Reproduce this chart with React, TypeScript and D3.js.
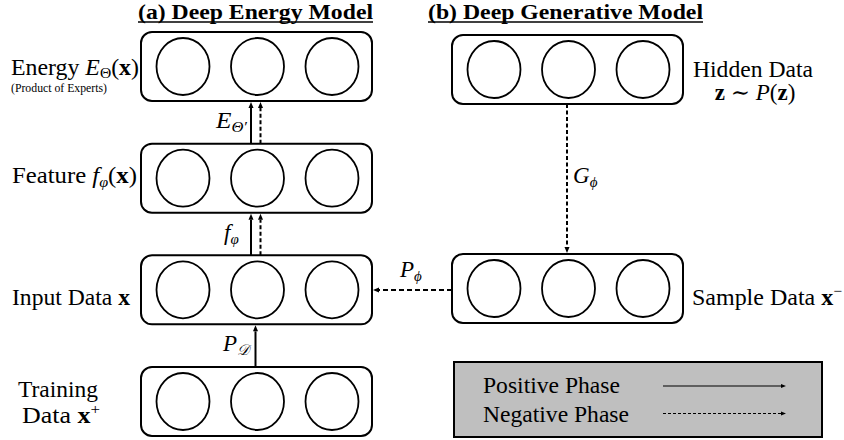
import React from 'react';
import * as d3 from 'd3';

// ---- diagram data ----
const leftRows = [0, 1, 2, 3]; // Energy, Feature, Input, Training
const rightRows = [0, 2]; // Hidden, Sample
const units = [0, 1, 2];
const titles = ['(a) Deep Energy Model', '(b) Deep Generative Model'];
const legendItems = ['Positive Phase', 'Negative Phase'];
const legendWidths = [137, 146];
const legendDash = ['none', '3,2'];

const W = 844;
const H = 440;
const SERIF = 'Liberation Serif, DejaVu Serif, serif';

const rowY = d3.scaleLinear().domain([0, 3]).range([32, 367]);
const BOX_W = 231;
const BOX_H = 69;
const leftX = 141;
const rightX = 452;
const unitX = d3.scalePoint<number>().domain(units).range([42, 191]);

function Arrow({ x1, y1, x2, y2, dash, w = 2, head = 6 }: any) {
  const ang = Math.atan2(y2 - y1, x2 - x1);
  const bx = x2 - head * Math.cos(ang);
  const by = y2 - head * Math.sin(ang);
  const hw = head * 0.42;
  const px = -Math.sin(ang) * hw;
  const py = Math.cos(ang) * hw;
  return (
    <g>
      <line x1={x1} y1={y1} x2={bx} y2={by} stroke="#000" strokeWidth={w} strokeDasharray={dash} />
      <path d={`M${x2},${y2}L${bx + px},${by + py}L${bx - px},${by - py}Z`} fill="#000" />
    </g>
  );
}

function Layer({ x, y }: { x: number; y: number }) {
  return (
    <g transform={`translate(${x},${y})`}>
      <rect x={0} y={0} width={BOX_W} height={BOX_H} rx={11} ry={11} fill="#fff" stroke="#000" strokeWidth={2} />
      {units.map((u) => (
        <ellipse key={u} cx={unitX(u)} cy={BOX_H / 2} rx={26.5} ry={28.5} fill="#fff" stroke="#000" strokeWidth={1.8} />
      ))}
    </g>
  );
}

const FS = 23;

export default function App() {
  const lt = leftRows.map((r) => rowY(r));
  const rt = [35, 254];
  const sub = { fontSize: 15 } as any;
  const it = { fontStyle: 'italic' } as any;
  const bd = { fontWeight: 'bold' } as any;
  return (
    <svg width={W} height={H} style={{ position: 'absolute', left: 0, top: 0, background: '#fff', fontFamily: SERIF }}>
      <rect width={W} height={H} fill="#fff" />
      {/* titles */}
      <text x={138} y={18.5} style={{ fontSize: 22, fontWeight: 'bold' }} textLength={235} lengthAdjust="spacingAndGlyphs">{titles[0]}</text>
      <line x1={138} x2={373} y1={22} y2={22} stroke="#000" strokeWidth={1.5} />
      <text x={428} y={18.5} style={{ fontSize: 22, fontWeight: 'bold' }} textLength={275} lengthAdjust="spacingAndGlyphs">{titles[1]}</text>
      <line x1={428} x2={703} y1={22} y2={22} stroke="#000" strokeWidth={1.5} />

      {/* layers */}
      {leftRows.map((r, i) => (
        <Layer key={'l' + r} x={leftX} y={lt[i]} />
      ))}
      {rightRows.map((r, i) => (
        <Layer key={'r' + r} x={rightX} y={rt[i]} />
      ))}

      {/* vertical arrows left */}
      <Arrow x1={251} y1={lt[1]} x2={251} y2={lt[0] + BOX_H + 1} />
      <Arrow x1={260.5} y1={lt[1]} x2={260.5} y2={lt[0] + BOX_H + 1} dash="4,2.5" />
      <Arrow x1={251} y1={lt[2]} x2={251} y2={lt[1] + BOX_H + 1} />
      <Arrow x1={260.5} y1={lt[2]} x2={260.5} y2={lt[1] + BOX_H + 1} dash="4,2.5" />
      <Arrow x1={255.5} y1={lt[3]} x2={255.5} y2={lt[2] + BOX_H + 1} />
      {/* generative arrows */}
      <Arrow x1={567} y1={rt[0] + BOX_H} x2={567} y2={rt[1] - 1} dash="4,2.5" />
      <Arrow x1={rightX} y1={290} x2={leftX + BOX_W + 1} y2={290} dash="5,3" />

      {/* arrow labels */}
      <text x={216} y={128} style={{ fontSize: FS, ...it }} textLength={31} lengthAdjust="spacingAndGlyphs">E<tspan style={sub} dy={4}>Θ′</tspan></text>
      <text x={224} y={240} style={{ fontSize: FS, ...it }}>f<tspan style={sub} dy={4}>φ</tspan></text>
      <text x={223} y={351} style={{ fontSize: FS, ...it }}>P<tspan style={sub} dy={4}>𝒟</tspan></text>
      <text x={573} y={183} style={{ fontSize: FS, ...it }}>G<tspan style={sub} dy={4}>ϕ</tspan></text>
      <text x={400} y={277} style={{ fontSize: FS, ...it }}>P<tspan style={sub} dy={4}>ϕ</tspan></text>

      {/* left labels */}
      <text x={11} y={75} style={{ fontSize: FS }} textLength={128} lengthAdjust="spacingAndGlyphs">
        Energy <tspan style={it}>E</tspan><tspan style={sub} dy={3}>Θ</tspan><tspan dy={-3}>(</tspan><tspan style={bd}>x</tspan>)
      </text>
      <text x={11} y={92} style={{ fontSize: 12 }} textLength={96} lengthAdjust="spacingAndGlyphs">(Product of Experts)</text>
      <text x={12} y={183} style={{ fontSize: FS }} textLength={125} lengthAdjust="spacingAndGlyphs">
        Feature <tspan style={it}>f</tspan><tspan style={{ fontSize: 15, ...it }} dy={4}>φ</tspan><tspan dy={-4}>(</tspan><tspan style={bd}>x</tspan>)
      </text>
      <text x={12} y={305} style={{ fontSize: FS }} textLength={118} lengthAdjust="spacingAndGlyphs">
        Input Data <tspan style={bd}>x</tspan>
      </text>
      <text x={18} y={397} style={{ fontSize: FS }} textLength={80} lengthAdjust="spacingAndGlyphs">Training</text>
      <text x={22} y={423} style={{ fontSize: FS }} textLength={78} lengthAdjust="spacingAndGlyphs">
        Data <tspan style={bd}>x</tspan><tspan style={sub} dy={-9}>+</tspan>
      </text>

      {/* right labels */}
      <text x={693} y={77} style={{ fontSize: FS }} textLength={120} lengthAdjust="spacingAndGlyphs">Hidden Data</text>
      <text x={755} y={100} style={{ fontSize: FS }} textAnchor="middle">
        <tspan style={bd}>z</tspan> ∼ <tspan style={it}>P</tspan>(<tspan style={bd}>z</tspan>)
      </text>
      <text x={692} y={305} style={{ fontSize: FS }} textLength={150} lengthAdjust="spacingAndGlyphs">
        Sample Data <tspan style={bd}>x</tspan><tspan style={sub} dy={-9}>−</tspan>
      </text>

      {/* legend */}
      <rect x={454} y={362} width={368} height={75} fill="#bfbfbf" stroke="#000" strokeWidth={2} />
      {legendItems.map((t, i) => (
        <g key={t}>
          <text x={483} y={393 + i * 28.5} style={{ fontSize: FS }} textLength={legendWidths[i]} lengthAdjust="spacingAndGlyphs">{t}</text>
          <Arrow x1={663} y1={386 + i * 27.5} x2={786} y2={386 + i * 27.5} w={1.2} head={5} dash={legendDash[i] === 'none' ? undefined : legendDash[i]} />
        </g>
      ))}
    </svg>
  );
}
